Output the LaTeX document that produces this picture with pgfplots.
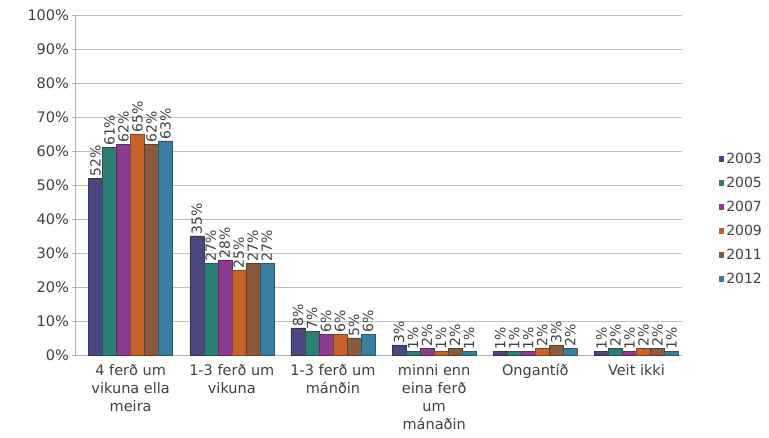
\documentclass[border=0pt]{standalone}
\usepackage{pgfplots}
\pgfplotsset{compat=1.18}
\usepackage{fontspec}
\setmainfont{DejaVu Sans}
\definecolor{cA}{HTML}{4A4680}
\definecolor{cB}{HTML}{2E7E78}
\definecolor{cC}{HTML}{8B3C91}
\definecolor{cD}{HTML}{C5632B}
\definecolor{cE}{HTML}{8B5A3C}
\definecolor{cF}{HTML}{3B7EA1}
\definecolor{txt}{HTML}{404040}
\begin{document}
\begin{tikzpicture}
\begin{axis}[
  scale only axis, width=607pt, height=340pt,
  ybar=0pt, bar width=14pt,
  xmin=0.45, xmax=6.45, ymin=0, ymax=100,
  axis x line=bottom, axis y line=left,
  axis line style={-, draw=gray!60},
  xtick={1,2,3,4,5,6},
  xticklabels={{4 ferð um\\vikuna ella\\meira},{1-3 ferð um\\vikuna},{1-3 ferð um\\mánðin},{minni enn\\eina ferð\\um\\mánaðin},{Ongantíð},{Veit ikki}},
  x tick label style={align=center, font=\fontsize{14.5}{18}\selectfont, text=txt, anchor=north, yshift=-3pt},
  extra x ticks={1.5,2.5,3.5,4.5,5.5},
  extra x tick labels={},
  extra x tick style={major tick length=6pt, tick style={draw=gray!60}, grid=none},
  major x tick style={draw=none},
  ytick={0,10,...,100},
  yticklabel={\pgfmathprintnumber{\tick}\%},
  /pgf/number format/assume math mode=true,
  y tick label style={font=\fontsize{14.5}{16}\selectfont, text=txt},
  ytick style={draw=gray!60},
  major tick length=5pt,
  ymajorgrids, grid style={draw=gray!50},
  nodes near coords={\pgfmathprintnumber{\pgfplotspointmeta}\%},
  every node near coord/.append style={rotate=90, anchor=west, font=\fontsize{14}{15}\selectfont, text=txt, inner sep=1.5pt},
  legend style={at={(axis description cs:1.055,0.40)}, anchor=west, draw=none, fill=none, font=\fontsize{14}{16}\selectfont, text=txt, row sep=8pt},
  legend image code/.code={\draw[#1, draw=none] (0cm,-0.1cm) rectangle (0.2cm,0.1cm);},
  clip=false,
]
\addplot[fill=cA, draw=cA!70!black] coordinates {(1,52) (2,35) (3,8) (4,3) (5,1) (6,1)};
\addplot[fill=cB, draw=cB!70!black] coordinates {(1,61) (2,27) (3,7) (4,1) (5,1) (6,2)};
\addplot[fill=cC, draw=cC!70!black] coordinates {(1,62) (2,28) (3,6) (4,2) (5,1) (6,1)};
\addplot[fill=cD, draw=cD!70!black] coordinates {(1,65) (2,25) (3,6) (4,1) (5,2) (6,2)};
\addplot[fill=cE, draw=cE!70!black] coordinates {(1,62) (2,27) (3,5) (4,2) (5,3) (6,2)};
\addplot[fill=cF, draw=cF!70!black] coordinates {(1,63) (2,27) (3,6) (4,1) (5,2) (6,1)};
\legend{2003,2005,2007,2009,2011,2012}
\end{axis}
\path[use as bounding box] (-75pt,-83pt) rectangle (694pt,355pt);
\end{tikzpicture}
\end{document}
